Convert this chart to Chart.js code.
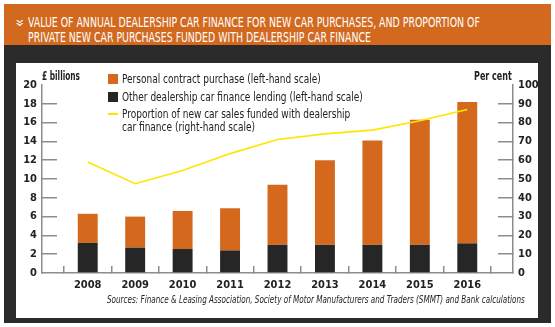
<!DOCTYPE html>
<html>
<head>
<meta charset="utf-8">
<script src="https://cdn.jsdelivr.net/npm/chart.js@4.4.1/dist/chart.umd.min.js"></script>
<style>
  body { margin: 0; width: 555px; height: 327px; background: #fff; position: relative; overflow: hidden;
         font-family: "Liberation Sans Narrow", "DejaVu Sans Condensed", sans-serif; }
  #head { position: absolute; left: 4px; top: 4px; width: 547px; height: 41px; background: #d2691f; }
  #frame { position: absolute; left: 4px; top: 45px; width: 547px; height: 278px; background: #2b2b2b; }
  #panel { position: absolute; left: 16px; top: 63px; width: 522px; height: 255px; background: #fff; }
  .title { position: absolute; left: 28px; color: #fff; font-size: 14.5px; line-height: 15px; white-space: nowrap;
           transform-origin: left top; }
  #chev { position: absolute; left: 16px; top: 14px; color: #fff; font-size: 15px; transform: rotate(90deg); }
  #wrap { position: absolute; left: 0; top: 0; width: 555px; height: 327px; }
  .lbl { position: absolute; font-size: 11.5px; color: #222; white-space: nowrap; line-height: 13px;
         transform-origin: left top; }
  .sw { position: absolute; width: 10px; height: 10px; }
  #src { position: absolute; left: 107px; top: 294px; font-size: 10px; font-style: italic; color: #222;
         white-space: nowrap; transform-origin: left top; }
</style>
</head>
<body>
<div id="head"></div>
<div id="frame"></div>
<div id="panel"></div>
<div id="chev">»</div>
<div class="title" id="t1" style="top:15px">VALUE OF ANNUAL DEALERSHIP CAR FINANCE FOR NEW CAR PURCHASES, AND PROPORTION OF</div>
<div class="title" id="t2" style="top:30px">PRIVATE NEW CAR PURCHASES FUNDED WITH DEALERSHIP CAR FINANCE</div>
<div id="wrap"><canvas id="chart" width="555" height="327"></canvas></div>

<div class="lbl" id="ylab" style="left:42px; top:70px; font-weight:bold">£ billions</div>
<div class="lbl" id="y1lab" style="left:474px; top:70px; font-weight:bold">Per cent</div>

<div class="sw" style="left:108px; top:74px; background:#d4691e"></div>
<div class="lbl" id="leg1" style="left:122px; top:73px">Personal contract purchase (left-hand scale)</div>
<div class="sw" style="left:108px; top:92px; background:#262626"></div>
<div class="lbl" id="leg2" style="left:122px; top:91px">Other dealership car finance lending (left-hand scale)</div>
<div class="sw" style="left:108px; top:113px; height:2px; background:#ffe500"></div>
<div class="lbl" id="leg3" style="left:122px; top:108px">Proportion of new car sales funded with dealership<br>car finance (right-hand scale)</div>

<div id="src">Sources: Finance &amp; Leasing Association, Society of Motor Manufacturers and Traders (SMMT) and Bank calculations</div>

<script>
// data
var years = ['2008', '2009', '2010', '2011', '2012', '2013', '2014', '2015', '2016'];
var pcp = [3.1, 3.3, 4.05, 4.5, 6.4, 9.0, 11.1, 13.3, 15.05];
var otherLending = [3.2, 2.7, 2.55, 2.4, 3.0, 3.0, 3.0, 3.0, 3.15];
var shareFunded = [59, 47.5, 54.5, 63.5, 71, 74, 76, 81, 87];
var leftTicks = [0, 2, 4, 6, 8, 10, 12, 14, 16, 18, 20];
var rightTicks = [0, 10, 20, 30, 40, 50, 60, 70, 80, 90, 100];

// squeeze text blocks to the widths measured on the reference
function fitWidth(id, w) {
    var el = document.getElementById(id);
    el.style.transform = 'scaleX(' + (w / el.offsetWidth) + ')';
}
fitWidth('t1', 452);
fitWidth('t2', 343);
fitWidth('src', 418);
fitWidth('ylab', 38);
fitWidth('y1lab', 38);
var legScale = 199 / document.getElementById('leg1').offsetWidth;
['leg1', 'leg2', 'leg3'].forEach(function (id) {
    document.getElementById(id).style.transform = 'scaleX(' + legScale + ')';
});

function pts(arr) {
    return arr.map(function (v, i) { return { x: i, y: v }; });
}

var axisGrey = '#8c8c8c';
var tickFont = { family: '"Liberation Sans Narrow", "DejaVu Sans Condensed", sans-serif', size: 11, weight: 'bold' };

// hide the stub at both ends of a value axis
function stubColor(lo, hi) {
    return function (ctx) {
        if (!ctx.tick) return axisGrey;
        return (ctx.tick.value === lo || ctx.tick.value === hi) ? 'rgba(0,0,0,0)' : axisGrey;
    };
}

new Chart(document.getElementById('chart'), {
    data: {
        datasets: [{
            type: 'line',
            label: 'Proportion of new car sales funded with dealership car finance (right-hand scale)',
            data: pts(shareFunded),
            yAxisID: 'y1',
            borderColor: '#ffe500',
            borderWidth: 1.6,
            pointRadius: 0,
            tension: 0,
            order: 0
        }, {
            type: 'bar',
            label: 'Other dealership car finance lending (left-hand scale)',
            data: pts(otherLending),
            yAxisID: 'y',
            backgroundColor: '#262626',
            barPercentage: 0.42,
            categoryPercentage: 1,
            order: 1
        }, {
            type: 'bar',
            label: 'Personal contract purchase (left-hand scale)',
            data: pts(pcp),
            yAxisID: 'y',
            backgroundColor: '#d4691e',
            barPercentage: 0.42,
            categoryPercentage: 1,
            order: 2
        }]
    },
    options: {
        responsive: false,
        animation: false,
        layout: { padding: { left: 16, right: 17, top: 85, bottom: 0 } },
        plugins: {
            legend: { display: false },
            tooltip: { enabled: false }
        },
        scales: {
            x: {
                type: 'linear',
                stacked: true,
                offset: false,
                min: -0.964,
                max: 8.964,
                afterBuildTicks: function (scale) {
                    scale.ticks = years.map(function (y, i) { return { value: i }; });
                },
                afterFit: function (scale) { scale.height = 54; },
                ticks: {
                    callback: function (v) { return years[v]; },
                    font: tickFont,
                    color: '#222',
                    padding: 13,
                    maxRotation: 0
                },
                grid: {
                    offset: true,
                    drawOnChartArea: false,
                    drawTicks: true,
                    tickLength: -7,
                    color: axisGrey,
                    lineWidth: 1.5
                },
                border: { color: axisGrey, width: 1.5 }
            },
            y: {
                position: 'left',
                stacked: true,
                min: 0,
                max: 20,
                afterBuildTicks: function (scale) {
                    scale.ticks = leftTicks.map(function (v) { return { value: v }; });
                },
                afterFit: function (scale) { scale.width = 26; },
                ticks: { font: tickFont, color: '#222', padding: 20 },
                grid: {
                    drawOnChartArea: false,
                    tickLength: -15,
                    color: stubColor(0, 20),
                    lineWidth: 1.5
                },
                border: { color: axisGrey, width: 1.5 }
            },
            y1: {
                position: 'right',
                min: 0,
                max: 100,
                afterBuildTicks: function (scale) {
                    scale.ticks = rightTicks.map(function (v) { return { value: v }; });
                },
                afterFit: function (scale) { scale.width = 25; },
                ticks: { font: tickFont, color: '#222', padding: 20 },
                grid: {
                    drawOnChartArea: false,
                    tickLength: -15,
                    color: stubColor(0, 100),
                    lineWidth: 1.5
                },
                border: { color: axisGrey, width: 1.5 }
            }
        }
    }
});
</script>
</body>
</html>
